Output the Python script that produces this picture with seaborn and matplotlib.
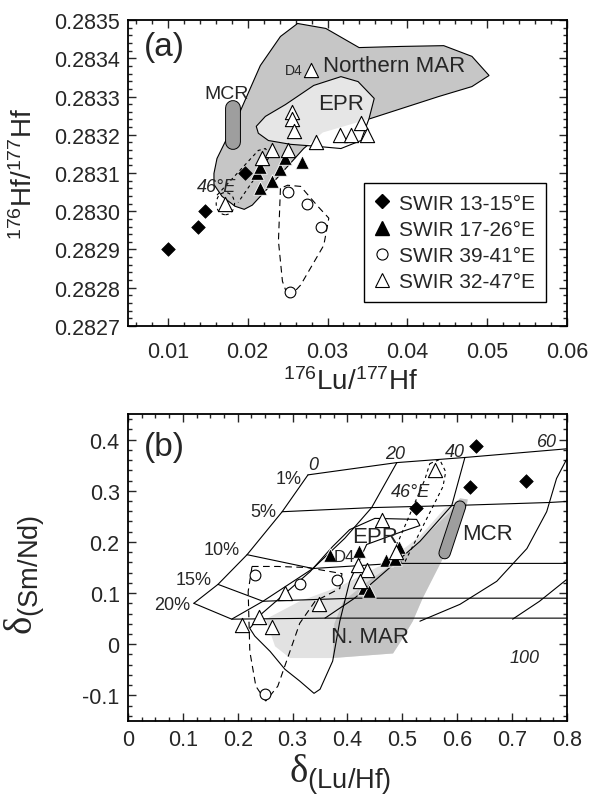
import numpy as np
import matplotlib
matplotlib.use('Agg')
import matplotlib.pyplot as plt
import seaborn as sns
from matplotlib.patches import Polygon, Ellipse
from matplotlib.ticker import MultipleLocator, FixedLocator, FuncFormatter
import matplotlib.patheffects as pe
from matplotlib.lines import Line2D

sns.set_style('ticks')
plt.rcParams['font.family'] = ['Liberation Sans', 'DejaVu Sans']
plt.rcParams['mathtext.fontset'] = 'custom'
plt.rcParams['mathtext.rm'] = 'Liberation Serif'
plt.rcParams['mathtext.sf'] = 'Liberation Sans'
plt.rcParams['mathtext.it'] = 'Liberation Sans:italic'
plt.rcParams['mathtext.bf'] = 'Liberation Sans:bold'

# ---------------- panel (a) data ----------------
a_dia_x = [0.0100, 0.0138, 0.0146, 0.0197]
a_dia_y = [0.28290, 0.28296, 0.28300, 0.28310]
a_tri_x = [0.0212, 0.0216, 0.0216, 0.0230, 0.0241, 0.0247, 0.0268]
a_tri_y = [0.28310, 0.283117, 0.28306, 0.28308, 0.28311, 0.28314, 0.28313]
a_cir_x = [0.0251, 0.0274, 0.0292, 0.0253]
a_cir_y = [0.28305, 0.28302, 0.28296, 0.28279]
a_otri_x = [0.0172, 0.0218, 0.0231, 0.0251, 0.0285, 0.0316, 0.0329, 0.0342, 0.0350,
            0.0256, 0.0256, 0.0258, 0.0279]
a_otri_y = [0.28302, 0.28314, 0.28316, 0.28316, 0.28318, 0.28320, 0.28320, 0.28323, 0.28320,
            0.28326, 0.28324, 0.28321, 0.28337]

nmar_a_x = [0.02625, 0.02979, 0.03395, 0.03926, 0.04456, 0.04809, 0.05024, 0.04809, 0.04393,
            0.03547, 0.02941, 0.02701, 0.02309, 0.02057, 0.01956, 0.01842, 0.01678, 0.01577,
            0.01577, 0.01615, 0.01905, 0.02158, 0.02410]
nmar_a_y = [0.283491, 0.283478, 0.283428, 0.283431, 0.283433, 0.283405, 0.283355, 0.283326, 0.283300,
            0.283243, 0.283206, 0.283164, 0.283073, 0.283016, 0.283005, 0.283013, 0.283039, 0.283070,
            0.283099, 0.283138, 0.283261, 0.283381, 0.283457]
epr_a_x = [0.02107, 0.02221, 0.02473, 0.02827, 0.03168, 0.03383, 0.03585, 0.03521, 0.03420,
           0.03168, 0.02852, 0.02537, 0.02259, 0.02133]
epr_a_y = [0.283222, 0.283248, 0.283279, 0.283329, 0.283352, 0.283339, 0.283295, 0.283243, 0.283185,
           0.283164, 0.283170, 0.283175, 0.283185, 0.283204]
loop46_a_x = [0.01615, 0.02133, 0.02221, 0.02284, 0.01880]
loop46_a_y = [0.283042, 0.283159, 0.283164, 0.283146, 0.283023]
cirloop_a_x = [0.02410, 0.02385, 0.02435, 0.02511, 0.02663, 0.02953, 0.03016, 0.02878, 0.02663, 0.02499]
cirloop_a_y = [0.283060, 0.282922, 0.282817, 0.282773, 0.282807, 0.282911, 0.282982, 0.283013,
               0.283065, 0.283068]
mcr_a_x = [0.01817, 0.01817]
mcr_a_y = [0.283181, 0.283270]

# ---------------- panel (b) data ----------------
b_dia_x = [0.634, 0.624, 0.725, 0.524]
b_dia_y = [0.387, 0.308, 0.320, 0.266]
b_tri_x = [0.368, 0.421, 0.431, 0.439, 0.471, 0.487, 0.493]
b_tri_y = [0.175, 0.183, 0.110, 0.105, 0.165, 0.167, 0.191]
b_cir_x = [0.231, 0.313, 0.380, 0.250]
b_cir_y = [0.136, 0.118, 0.126, -0.098]
b_otri_x = [0.207, 0.238, 0.262, 0.287, 0.348, 0.419, 0.435, 0.422, 0.463, 0.489, 0.559]
b_otri_y = [0.038, 0.053, 0.033, 0.100, 0.079, 0.154, 0.146, 0.123, 0.243, 0.181, 0.340]

row_labels = ['1%', '5%', '10%', '15%', '20%']
rows_x = [[0.328, 0.490, 0.614, 0.800],
          [0.281, 0.444, 0.590, 0.767, 0.800],
          [0.217, 0.337, 0.486, 0.800],
          [0.164, 0.246, 0.413, 0.800],
          [0.120, 0.189, 0.359, 0.800]]
rows_y = [[0.331, 0.355, 0.365, 0.382],
          [0.259, 0.267, 0.271, 0.277, 0.279],
          [0.175, 0.148, 0.158, 0.158],
          [0.117, 0.084, 0.090, 0.090],
          [0.080, 0.049, 0.051, 0.051]]
col_labels = ['0', '20', '40', '60', '100']
cols_x = [[0.328, 0.281, 0.217, 0.164, 0.120],
          [0.490, 0.444, 0.395, 0.337, 0.246, 0.189],
          [0.614, 0.590, 0.532, 0.486, 0.413, 0.359],
          [0.810, 0.781, 0.763, 0.727, 0.672, 0.605, 0.532],
          [0.800, 0.750, 0.701]]
cols_y = [[0.331, 0.259, 0.175, 0.117, 0.080],
          [0.355, 0.267, 0.207, 0.148, 0.084, 0.049],
          [0.365, 0.271, 0.201, 0.158, 0.090, 0.051],
          [0.383, 0.324, 0.259, 0.187, 0.123, 0.078, 0.045],
          [0.127, 0.084, 0.049]]

nmar_b_x = [0.251, 0.313, 0.386, 0.468, 0.532, 0.577, 0.605, 0.619, 0.617, 0.596, 0.574, 0.537,
            0.519, 0.495, 0.483, 0.373, 0.295, 0.268]
nmar_b_y = [0.049, 0.084, 0.113, 0.158, 0.211, 0.265, 0.285, 0.283, 0.269, 0.220, 0.168, 0.090,
            0.045, 0.002, -0.018, -0.027, -0.027, -0.004]
nmar_dark_x = [0.373, 0.376, 0.392, 0.440, 0.490, 0.545, 0.587, 0.605, 0.619, 0.617, 0.596, 0.574,
               0.537, 0.519, 0.495, 0.483]
nmar_dark_y = [-0.027, 0.040, 0.084, 0.125, 0.162, 0.215, 0.259, 0.285, 0.283, 0.269, 0.220, 0.168,
               0.090, 0.045, 0.002, -0.018]
epr_b_x = [0.222, 0.244, 0.286, 0.332, 0.373, 0.404, 0.450, 0.526, 0.532, 0.499, 0.435, 0.404,
           0.386, 0.373, 0.350, 0.339, 0.313, 0.286, 0.259, 0.231]
epr_b_y = [0.031, 0.060, 0.099, 0.142, 0.191, 0.224, 0.246, 0.244, 0.232, 0.220, 0.195, 0.123,
           0.045, -0.033, -0.088, -0.096, -0.072, -0.049, -0.014, 0.016]
cirloop_b_x = [0.226, 0.219, 0.222, 0.233, 0.251, 0.273, 0.313, 0.341, 0.386, 0.390, 0.326, 0.273]
cirloop_b_y = [0.152, 0.103, -0.014, -0.082, -0.111, -0.082, 0.041, 0.084, 0.109, 0.138, 0.150, 0.152]
loop46_b_x = [0.550, 0.568, 0.579, 0.574, 0.505, 0.486, 0.481, 0.541]
loop46_b_y = [0.353, 0.361, 0.337, 0.308, 0.162, 0.158, 0.172, 0.322]
mcr_b_x = [0.605, 0.577]
mcr_b_y = [0.269, 0.178]

legend_labels = ['SWIR 13-15°E', 'SWIR 17-26°E', 'SWIR 39-41°E', 'SWIR 32-47°E']

# ---------------- figure ----------------
fig = plt.figure(figsize=(5.97, 8.03), dpi=100)
ax1 = fig.add_axes([0.2144, 0.5928, 0.7353, 0.3810])
ax2 = fig.add_axes([0.2144, 0.1009, 0.7353, 0.3823])

GREY = '#c6c6c6'
LIGHT = '#e6e6e6'
MCRC = '#9e9e9e'
DASH = (0, (6, 4))

def points(ax, dx, dy, ox, oy, cx, cy, tx, ty):
    sns.scatterplot(x=dx, y=dy, marker='D', s=48, color='black', edgecolor='black',
                    linewidth=0.5, ax=ax, zorder=8, legend=False)
    sns.scatterplot(x=tx, y=ty, marker='^', s=95, color='black', edgecolor='white',
                    linewidth=0.6, ax=ax, zorder=8, legend=False)
    sns.scatterplot(x=cx, y=cy, marker='o', s=60, color='white', edgecolor='black',
                    linewidth=0.8, ax=ax, zorder=8, legend=False)
    sns.scatterplot(x=ox, y=oy, marker='^', s=105, color='white', edgecolor='black',
                    linewidth=0.8, ax=ax, zorder=8, legend=False)

def mcr(ax, x, y, lw):
    ax.plot(x, y, color=MCRC, lw=lw, solid_capstyle='round', zorder=5,
            path_effects=[pe.Stroke(linewidth=lw + 1.4, foreground='black'), pe.Normal()])

# ----- panel (a)
nm = Polygon(np.column_stack([nmar_a_x, nmar_a_y]), closed=True, fc=GREY, ec='black', lw=0.8, zorder=1)
ax1.add_patch(nm)
ep_fill = Polygon(np.column_stack([epr_a_x, epr_a_y]), closed=True, fc='white', ec='none', zorder=2)
ax1.add_patch(ep_fill)
nm_in = Polygon(np.column_stack([nmar_a_x, nmar_a_y]), closed=True, fc=LIGHT, ec='none', zorder=3)
ax1.add_patch(nm_in)
nm_in.set_clip_path(ep_fill)
ax1.add_patch(Polygon(np.column_stack([epr_a_x, epr_a_y]), closed=True, fill=False, ec='black',
                      lw=0.8, zorder=4))
ax1.add_patch(Polygon(np.column_stack([cirloop_a_x, cirloop_a_y]), closed=True, fill=False,
                      ec='black', lw=0.8, ls=DASH, zorder=4))
ax1.add_patch(Polygon(np.column_stack([loop46_a_x, loop46_a_y]), closed=False, fill=False,
                      ec='black', lw=0.8, ls=(0, (3, 3)), zorder=4))
ax1.add_patch(Ellipse((a_otri_x[0], a_otri_y[0]), 0.0023, 0.000058, fill=False, ec='black',
                      lw=0.8, ls=(0, (3, 3)), zorder=4))
mcr(ax1, mcr_a_x, mcr_a_y, 10)
points(ax1, a_dia_x, a_dia_y, a_otri_x, a_otri_y, a_cir_x, a_cir_y, a_tri_x, a_tri_y)

ax1.text(0.0096, 0.28343, '(a)', fontsize=24, ha='center', va='center')
ax1.text(0.01737, 0.283308, 'MCR', fontsize=14, ha='center', va='center', zorder=9)
ax1.text(0.02571, 0.283369, 'D4', fontsize=10, ha='center', va='center', zorder=9)
ax1.text(0.0384, 0.283382, 'Northern MAR', fontsize=16, ha='center', va='center', zorder=9)
ax1.text(0.03168, 0.283282, 'EPR', fontsize=16, ha='center', va='center', zorder=9)
ax1.text(0.01611, 0.283064, '46°E', fontsize=13, style='italic', ha='center', va='center', zorder=9)

ax1.set_xlim(0.005, 0.06)
ax1.set_ylim(0.2827, 0.2835)
ax1.xaxis.set_major_locator(FixedLocator([0.01, 0.02, 0.03, 0.04, 0.05, 0.06]))
ax1.xaxis.set_minor_locator(MultipleLocator(0.002))
ax1.yaxis.set_major_locator(MultipleLocator(0.0001))
ax1.yaxis.set_minor_locator(MultipleLocator(0.00002))
ax1.xaxis.set_major_formatter(FuncFormatter(lambda v, _: f'{v:.2f}'))
ax1.yaxis.set_major_formatter(FuncFormatter(lambda v, _: f'{v:.4f}'))
ax1.set_xlabel(r'$^{\mathsf{176}}$Lu/$^{\mathsf{177}}$Hf', fontsize=20)
ax1.set_ylabel(r'$^{\mathsf{176}}$Hf/$^{\mathsf{177}}$Hf', fontsize=20)
ax1.xaxis.set_label_coords(0.506, -0.135)
ax1.yaxis.set_label_coords(-0.205, 0.5)

handles = [Line2D([], [], ls='none', marker='D', ms=7, mfc='black', mec='black'),
           Line2D([], [], ls='none', marker='^', ms=10, mfc='black', mec='black'),
           Line2D([], [], ls='none', marker='o', ms=8, mfc='white', mec='black', mew=0.8),
           Line2D([], [], ls='none', marker='^', ms=10, mfc='white', mec='black', mew=0.8)]
leg = ax1.legend(handles, legend_labels, loc='lower right', bbox_to_anchor=(0.975, 0.045),
                 fontsize=15, frameon=True, fancybox=False, framealpha=1, edgecolor='black',
                 handlelength=0.8, handletextpad=0.4, borderpad=0.5, labelspacing=0.35)
leg.get_frame().set_linewidth(1.0)

# ----- panel (b)
ax2.add_patch(Polygon(np.column_stack([nmar_b_x, nmar_b_y]), closed=True, fc='#e2e2e2', ec='none', zorder=1))
ax2.add_patch(Polygon(np.column_stack([nmar_dark_x, nmar_dark_y]), closed=True, fc='#c4c4c4',
                      ec='none', zorder=1.5))
ax2.add_patch(Polygon(np.column_stack([epr_b_x, epr_b_y]), closed=True, fill=False, ec='black',
                      lw=0.8, zorder=3))
for rx, ry in zip(rows_x, rows_y):
    ax2.plot(rx, ry, color='black', lw=0.8, zorder=2)
for cx, cy in zip(cols_x, cols_y):
    ax2.plot(cx, cy, color='black', lw=0.8, zorder=2)
ax2.add_patch(Polygon(np.column_stack([cirloop_b_x, cirloop_b_y]), closed=True, fill=False,
                      ec='black', lw=0.8, ls=DASH, zorder=3))
ax2.add_patch(Polygon(np.column_stack([loop46_b_x, loop46_b_y]), closed=True, fill=False,
                      ec='black', lw=0.8, ls=(0, (3, 3)), zorder=3))
mcr(ax2, mcr_b_x, mcr_b_y, 7.5)
points(ax2, b_dia_x, b_dia_y, b_otri_x, b_otri_y, b_cir_x, b_cir_y, b_tri_x, b_tri_y)

row_lab_pos = [(0.293, 0.324), (0.246, 0.259), (0.171, 0.185), (0.120, 0.127), (0.080, 0.078)]
for lab, (px, py) in zip(row_labels, row_lab_pos):
    ax2.text(px, py, lab, fontsize=13, ha='center', va='center', zorder=9)
col_lab_pos = [(0.337, 0.351), (0.486, 0.372), (0.596, 0.376), (0.763, 0.396), (0.723, -0.025)]
for lab, (px, py) in zip(col_labels, col_lab_pos):
    ax2.text(px, py, lab, fontsize=13, style='italic', ha='center', va='center', zorder=9)

ax2.text(0.067, 0.386, '(b)', fontsize=24, ha='center', va='center')
ax2.text(0.514, 0.298, '46°E', fontsize=13, style='italic', ha='center', va='center', zorder=9)
ax2.text(0.450, 0.211, 'EPR', fontsize=16, ha='center', va='center', zorder=9)
ax2.text(0.395, 0.172, 'D4', fontsize=12, ha='center', va='center', zorder=9)
ax2.text(0.441, 0.016, 'N. MAR', fontsize=16, ha='center', va='center', zorder=9)
ax2.text(0.655, 0.217, 'MCR', fontsize=16, ha='center', va='center', zorder=9)

ax2.set_xlim(0, 0.8)
ax2.set_ylim(-0.15, 0.45)
ax2.xaxis.set_major_locator(MultipleLocator(0.1))
ax2.xaxis.set_minor_locator(MultipleLocator(0.025))
ax2.yaxis.set_major_locator(FixedLocator([-0.1, 0, 0.1, 0.2, 0.3, 0.4]))
ax2.yaxis.set_minor_locator(MultipleLocator(0.02))
fmt = FuncFormatter(lambda v, _: '0' if abs(v) < 1e-9 else f'{v:.1f}')
ax2.xaxis.set_major_formatter(fmt)
ax2.yaxis.set_major_formatter(fmt)
ax2.set_xlabel(r'$\mathrm{\delta}_{\mathsf{(Lu/Hf)}}$', fontsize=28)
ax2.set_ylabel(r'$\mathrm{\delta}_{\mathsf{(Sm/Nd)}}$', fontsize=28)
ax2.xaxis.set_label_coords(0.483, -0.10)
ax2.yaxis.set_label_coords(-0.185, 0.48)

for ax in (ax1, ax2):
    ax.tick_params(which='both', direction='in', top=True, right=True, labelsize=15.5, width=1)
    ax.tick_params(which='major', length=6, pad=6)
    ax.tick_params(which='minor', length=3)
    for sp in ax.spines.values():
        sp.set_linewidth(1.3)
        sp.set_color('black')
        sp.set_visible(True)
ax1.tick_params(axis='x', which='major', pad=11)

fig.savefig('out.png', dpi=100)
